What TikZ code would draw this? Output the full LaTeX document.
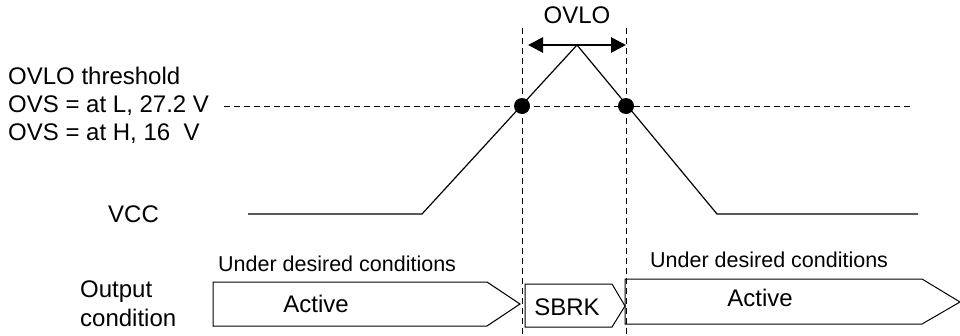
\documentclass[tikz,border=0pt]{standalone}
\usepackage{fontspec}
\setmainfont{Liberation Sans}
\usetikzlibrary{arrows.meta}
\begin{document}
\begin{tikzpicture}[x=1pt,y=-1pt,
  lbl/.style={inner sep=0pt,font=\fontsize{24}{27}\selectfont},
  small/.style={inner sep=0pt,font=\fontsize{21.5}{24}\selectfont},
  wave/.style={line width=1.2pt},
  guide/.style={line width=1pt,dash pattern=on 6pt off 4pt},
  box/.style={line width=1pt},
  dot/.style={circle,fill=black,inner sep=0pt,minimum size=16pt}]
\useasboundingbox (0,0) rectangle (960,335);
% threshold texts
\node[lbl,anchor=west] (t1) at (8,76) {OVLO threshold};
\node[lbl,anchor=west] (t2) at (8,106) {OVS = at L, 27.2 V};
\node[lbl,anchor=west] (t3) at (8,134) {OVS = at H, 16\ \ V};
\node[lbl,anchor=west] (vcc) at (108,214) {VCC};
\node[lbl,anchor=west] (oc1) at (80,292) {Output};
\node[lbl,anchor=west] (oc2) at (80,318) {condition};
% guides
\coordinate (hL) at (224,106);
\coordinate (hR) at (912,106);
\draw[guide] (hL) -- (hR);
\coordinate (vLt) at (522,28); \coordinate (vLb) at (522,335);
\coordinate (vRt) at (626,28); \coordinate (vRb) at (626,335);
\draw[guide] (vLt) -- (vLb);
\draw[guide] (vRt) -- (vRb);
% waveform
\coordinate (w0) at (248,214);
\coordinate (w1) at (422,214);
\coordinate (pk) at (577,45);
\coordinate (w3) at (717,214);
\coordinate (w4) at (918,214);
\draw[wave] (w0) -- (w1) -- (pk) -- (w3) -- (w4);
\node[dot] (d1) at (522,106) {};
\node[dot] (d2) at (626,106) {};
% OVLO arrow
\coordinate (aL) at (528,45);
\coordinate (aR) at (626,45);
\draw[line width=2.8pt,{Triangle[length=15pt,width=15pt]}-{Triangle[length=15pt,width=15pt]}] (aL) -- (aR);
\node[lbl] (ovlo) at (577,15) {OVLO};
% output condition boxes
\draw[box] (213,282) -- (487,282) -- (520,304) -- (487,326) -- (213,326) -- cycle;
\node[lbl] (act1) at (316,304) {Active};
\node[small,anchor=west] (u1) at (218,264) {Under desired conditions};
\draw[box] (525,284) -- (612,284) -- (625,306) -- (612,327) -- (525,327) -- cycle;
\node[lbl] (sbrk) at (567,307) {SBRK};
\draw[box] (625,279) -- (922,279) -- (960,302) -- (922,324) -- (625,324) -- cycle;
\node[lbl] (act2) at (760,298) {Active};
\node[small,anchor=west] (u2) at (650,260) {Under desired conditions};
\end{tikzpicture}
\end{document}
